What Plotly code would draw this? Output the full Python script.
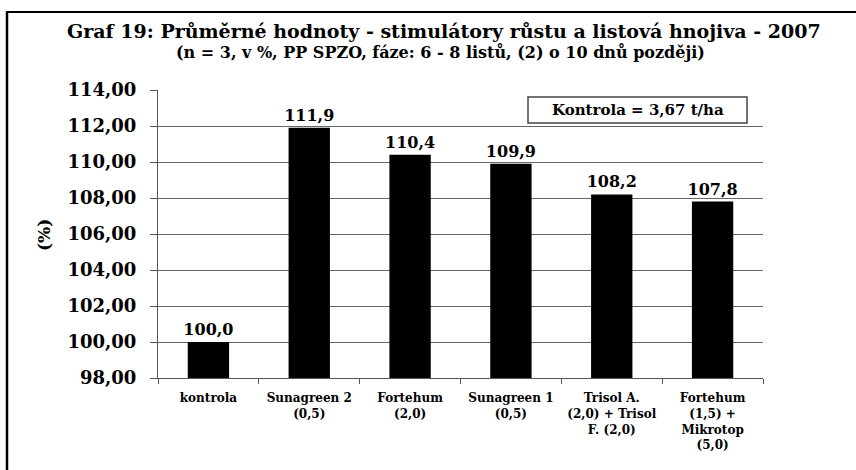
import plotly.graph_objects as go

categories = ["kontrola", "Sunagreen 2<br>(0,5)", "Fortehum<br>(2,0)", "Sunagreen 1<br>(0,5)",
              "Trisol A.<br>(2,0) + Trisol<br>F. (2,0)", "Fortehum<br>(1,5) +<br>Mikrotop<br>(5,0)"]
values = [100.0, 111.9, 110.4, 109.9, 108.2, 107.8]
y_ticks = [98, 100, 102, 104, 106, 108, 110, 112, 114]

W, H = 856, 470
L, R, T, B = 158, 763, 90, 378

def px(x):
    return (x - L) / (R - L)

def py(y):
    return (B - y) / (B - T)

FONT = "DejaVu Serif"

fig = go.Figure()
fig.add_trace(go.Bar(
    x=categories, y=values,
    marker=dict(color="black", line=dict(width=0)),
    texttemplate="%{y:.1f}", textposition="outside", constraintext="none",
    textfont=dict(family=FONT, size=16, color="black", weight="bold"),
    cliponaxis=False,
))

fig.update_layout(
    width=W, height=H,
    margin=dict(l=L, r=W - R, t=T, b=H - B, autoexpand=False),
    paper_bgcolor="white", plot_bgcolor="white",
    separators=",.",
    bargap=0.59,
    showlegend=False,
    font=dict(family=FONT, color="black"),
    xaxis=dict(
        type="category", automargin=False,
        showline=True, linecolor="#555", linewidth=1,
        ticks="outside", tickson="boundaries", ticklen=5, tickcolor="#555",
        tickfont=dict(family=FONT, size=12, color="black", weight="bold"),
        ticklabelstandoff=9,
        showgrid=False,
    ),
    yaxis=dict(
        range=[98, 114], tickvals=y_ticks, tickformat=".2f", automargin=False,
        showline=True, linecolor="#555", linewidth=1,
        ticks="outside", ticklen=7, tickcolor="#555",
        showgrid=True, gridcolor="#666", gridwidth=1,
        tickfont=dict(family=FONT, size=18, color="black", weight="bold"),
        ticklabelstandoff=10,
        zeroline=False,
    ),
)

annotations = [
    dict(text="Graf 19: Průměrné hodnoty - stimulátory růstu a listová hnojiva - 2007",
         x=px(444), y=py(31), xref="paper", yref="paper", showarrow=False,
         xanchor="center", yanchor="middle",
         font=dict(family=FONT, size=19, color="black", weight="bold")),
    dict(text="(n = 3, v %, PP SPZO, fáze: 6 - 8 listů, (2) o 10 dnů později)",
         x=px(440), y=py(52), xref="paper", yref="paper", showarrow=False,
         xanchor="center", yanchor="middle",
         font=dict(family=FONT, size=16, color="black", weight="bold")),
    dict(text="(%)", x=px(44), y=py(235), xref="paper", yref="paper", showarrow=False,
         textangle=-90, xanchor="center", yanchor="middle",
         font=dict(family=FONT, size=17, color="black", weight="bold")),
    dict(text="Kontrola = 3,67 t/ha", x=px(637.5), y=py(110), xref="paper", yref="paper",
         showarrow=False, xanchor="center", yanchor="middle",
         font=dict(family=FONT, size=15, color="black", weight="bold")),
]
fig.update_layout(annotations=annotations)

shapes = [
    dict(type="rect", xref="paper", yref="paper", x0=px(528), x1=px(747), y0=py(123), y1=py(97),
         line=dict(color="#444", width=1.5), fillcolor="white", layer="above"),
    dict(type="line", xref="paper", yref="paper", x0=px(7), x1=px(7), y0=py(12), y1=py(472),
         line=dict(color="black", width=2.5)),
    dict(type="line", xref="paper", yref="paper", x0=px(6), x1=px(860), y0=py(12), y1=py(12),
         line=dict(color="black", width=2)),
]
fig.update_layout(shapes=shapes)

fig.write_html("out.html", config={"displayModeBar": False},
               post_script="document.body.style.margin='0';document.body.style.overflow='hidden';")
